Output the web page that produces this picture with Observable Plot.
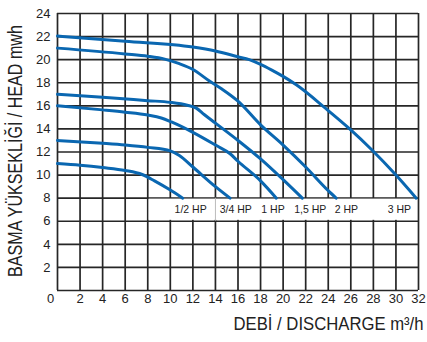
<!DOCTYPE html>
<html><head><meta charset="utf-8">
<script src="https://cdn.jsdelivr.net/npm/d3@7"></script>
<script src="https://cdn.jsdelivr.net/npm/@observablehq/plot@0.6"></script>
<style>body{margin:0;background:#fff}</style>
</head><body><div id="chart"></div>
<script>
// Flow (m3/h) and head (m), one pair of arrays per pump
const hp12Q = [0, 2, 4, 6, 7.5, 8.6, 10, 11.1];
const hp12H = [11, 10.85, 10.65, 10.4, 10.05, 9.5, 8.7, 8];
const hp34Q = [0, 4, 6, 8, 10, 10.8, 12, 14, 15.3];
const hp34H = [13, 12.75, 12.6, 12.4, 12.1, 11.7, 10.7, 9.0, 8];
const hp1Q = [0, 4, 6, 8, 9.2, 10.1, 12, 14, 15.3, 16, 18, 19.4];
const hp1H = [16, 15.65, 15.45, 15.2, 14.95, 14.6, 13.7, 12.6, 11.85, 11.2, 9.5, 8];
const hp15Q = [0, 4, 8, 10, 11.5, 12.3, 13, 14, 16, 18, 20, 21.7];
const hp15H = [17, 16.75, 16.45, 16.3, 16.05, 15.8, 15.25, 14.5, 13.0, 11.4, 9.6, 8];
const hp2Q = [0, 6, 8, 9.5, 10.8, 12, 13.4, 14.5, 16, 18, 20, 22, 24, 24.7];
const hp2H = [21, 20.5, 20.3, 20.05, 19.65, 19.15, 18.2, 17.5, 16.4, 14.35, 12.6, 10.7, 8.65, 8];
const hp3Q = [0, 6, 12, 14, 16, 17, 18, 19, 20, 21.2, 23.8, 25.9, 27.9, 30, 31.8];
const hp3H = [22.05, 21.6, 21.1, 20.75, 20.25, 20.0, 19.6, 19.1, 18.55, 17.8, 15.75, 14, 12.15, 10, 8];

const hpLabels = ["1/2 HP", "3/4 HP", "1 HP", "1,5 HP", "2 HP", "3 HP"];
const hpLabelQ = [11.8, 15.8, 19.1, 22.4, 25.6, 30.3];
const xTicks = [0, 2, 4, 6, 8, 10, 12, 14, 16, 18, 20, 22, 24, 26, 28, 30, 32];
const yTicks = [0, 2, 4, 6, 8, 10, 12, 14, 16, 18, 20, 22, 24];
const yTitle = "BASMA YÜKSEKLİĞİ / HEAD mwh";
const xTitle = "DEBİ / DISCHARGE m³/h";

const series = [
  [hpLabels[0], hp12Q, hp12H], [hpLabels[1], hp34Q, hp34H], [hpLabels[2], hp1Q, hp1H],
  [hpLabels[3], hp15Q, hp15H], [hpLabels[4], hp2Q, hp2H], [hpLabels[5], hp3Q, hp3H]
];
const rows = series.flatMap(([name, qs, hs]) => qs.map((q, i) => ({name, q, h: hs[i]})));
const labelRows = hpLabels.map((t, i) => ({t, q: hpLabelQ[i]}));

const grid = "#262626";
const sans = "'Liberation Sans', Arial, sans-serif";
const chart = Plot.plot({
  width: 427, height: 342,
  marginLeft: 57, marginRight: 9, marginTop: 13, marginBottom: 52,
  x: {domain: [0, 32]},
  y: {domain: [0, 24]},
  style: {fontFamily: sans, fontSize: "13px", color: "#222", background: "#fff"},
  marks: [
    Plot.ruleX(xTicks, {stroke: grid, strokeWidth: 1.7}),
    Plot.ruleY(yTicks, {stroke: grid, strokeWidth: 1.7}),
    Plot.rect([0], {x1: 8.12, x2: 31.88, y1: 6.08, y2: 7.92, fill: "white"}),
    Plot.ruleX([14], {y1: 6, y2: 8, stroke: "#bbb", strokeWidth: 1}),
    Plot.line(rows, {x: "q", y: "h", z: "name", stroke: "#0a67b1", strokeWidth: 3, curve: "monotone-x"}),
    Plot.text(labelRows, {x: "q", y: 7, text: "t", fontSize: 10.5, fill: "#222"}),
    Plot.axisX(xTicks.filter(d => d > 0), {tickSize: 0, tickPadding: 3, label: null, fontSize: 13}),
    Plot.axisY(yTicks.filter(d => d > 0), {tickSize: 0, tickPadding: 7, label: null, fontSize: 13}),
    Plot.text(["0"], {x: 0, y: 0, dx: -7, dy: 3, lineAnchor: "top", text: d => d, fontSize: 13, fill: "#222"}),
    Plot.text([yTitle], {frameAnchor: "left", textAnchor: "middle", rotate: -90, dx: -42, dy: -1, text: d => d, fontSize: 20, fill: "#222", fontFamily: sans}),
    Plot.text([xTitle], {frameAnchor: "bottom-right", textAnchor: "end", dx: 5, dy: 39, text: d => d, fontSize: 18, fill: "#222", fontFamily: sans})
  ]
});
document.getElementById("chart").append(chart);
// condense the two axis titles horizontally (the reference uses a condensed face)
for (const t of chart.querySelectorAll("text")) {
  const target = t.textContent === yTitle ? 252 : t.textContent === xTitle ? 190 : null;
  if (target) {
    const sx = target / t.getComputedTextLength();
    const tr = t.getAttribute("transform") || "";
    t.setAttribute("transform", `${tr} scale(${sx.toFixed(3)},1)`);
  }
}
</script>
</body></html>
